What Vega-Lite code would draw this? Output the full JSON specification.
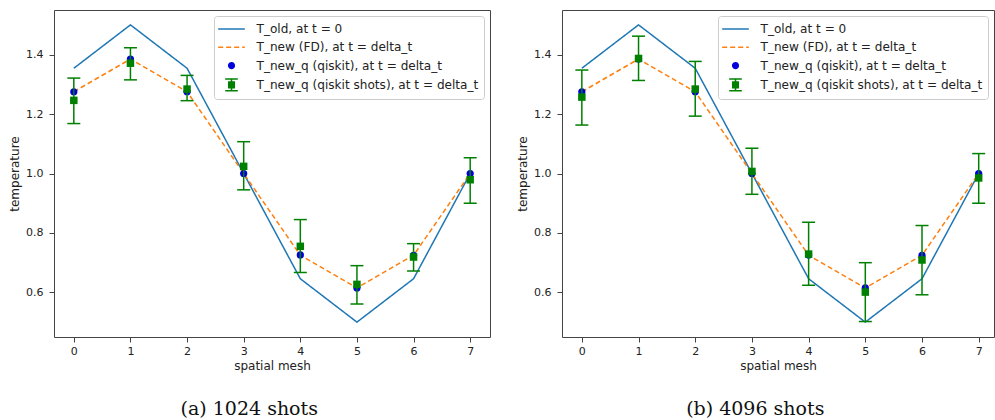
{
  "$schema": "https://vega.github.io/schema/vega-lite/v6.json",
  "padding": {"left": 8, "top": 9, "right": 0, "bottom": 0},
  "spacing": 25,
  "background": "white",
  "datasets": {
    "curves": [
      {"s": "T_old, at t = 0", "x": 0, "y": 1.354},
      {"s": "T_old, at t = 0", "x": 1, "y": 1.5},
      {"s": "T_old, at t = 0", "x": 2, "y": 1.354},
      {"s": "T_old, at t = 0", "x": 3, "y": 1.0},
      {"s": "T_old, at t = 0", "x": 4, "y": 0.646},
      {"s": "T_old, at t = 0", "x": 5, "y": 0.5},
      {"s": "T_old, at t = 0", "x": 6, "y": 0.646},
      {"s": "T_old, at t = 0", "x": 7, "y": 1.0},
      {"s": "T_new (FD), at t = delta_t", "x": 0, "y": 1.275},
      {"s": "T_new (FD), at t = delta_t", "x": 1, "y": 1.385},
      {"s": "T_new (FD), at t = delta_t", "x": 2, "y": 1.275},
      {"s": "T_new (FD), at t = delta_t", "x": 3, "y": 1.0},
      {"s": "T_new (FD), at t = delta_t", "x": 4, "y": 0.725},
      {"s": "T_new (FD), at t = delta_t", "x": 5, "y": 0.615},
      {"s": "T_new (FD), at t = delta_t", "x": 6, "y": 0.725},
      {"s": "T_new (FD), at t = delta_t", "x": 7, "y": 1.0},
      {"s": "T_new_q (qiskit), at t = delta_t", "x": 0, "y": 1.275},
      {"s": "T_new_q (qiskit), at t = delta_t", "x": 1, "y": 1.385},
      {"s": "T_new_q (qiskit), at t = delta_t", "x": 2, "y": 1.275},
      {"s": "T_new_q (qiskit), at t = delta_t", "x": 3, "y": 1.0},
      {"s": "T_new_q (qiskit), at t = delta_t", "x": 4, "y": 0.726},
      {"s": "T_new_q (qiskit), at t = delta_t", "x": 5, "y": 0.615},
      {"s": "T_new_q (qiskit), at t = delta_t", "x": 6, "y": 0.725},
      {"s": "T_new_q (qiskit), at t = delta_t", "x": 7, "y": 1.0}
    ],
    "shots_a": [
      {"x": 0, "y": 1.246, "lo": 1.168, "hi": 1.321},
      {"x": 1, "y": 1.371, "lo": 1.315, "hi": 1.423},
      {"x": 2, "y": 1.284, "lo": 1.245, "hi": 1.330},
      {"x": 3, "y": 1.024, "lo": 0.945, "hi": 1.107},
      {"x": 4, "y": 0.755, "lo": 0.667, "hi": 0.845},
      {"x": 5, "y": 0.627, "lo": 0.561, "hi": 0.690},
      {"x": 6, "y": 0.719, "lo": 0.672, "hi": 0.764},
      {"x": 7, "y": 0.979, "lo": 0.900, "hi": 1.053}
    ],
    "shots_b": [
      {"x": 0, "y": 1.257, "lo": 1.163, "hi": 1.348},
      {"x": 1, "y": 1.387, "lo": 1.313, "hi": 1.462},
      {"x": 2, "y": 1.284, "lo": 1.193, "hi": 1.377},
      {"x": 3, "y": 1.007, "lo": 0.930, "hi": 1.085},
      {"x": 4, "y": 0.729, "lo": 0.624, "hi": 0.836},
      {"x": 5, "y": 0.601, "lo": 0.502, "hi": 0.700},
      {"x": 6, "y": 0.709, "lo": 0.592, "hi": 0.825},
      {"x": 7, "y": 0.985, "lo": 0.900, "hi": 1.067}
    ]
  },
  "resolve": {"scale": {"color": "independent", "strokeDash": "independent"}, "legend": {"color": "independent", "strokeDash": "independent"}},
  "hconcat": [
    {
      "width": 436,
      "height": 327,
      "title": {"text": "(a) 1024 shots", "orient": "bottom", "frame": "bounds"},
      "layer": [
        {
          "data": {"name": "curves"},
          "transform": [{"filter": "datum.s !== 'T_new_q (qiskit), at t = delta_t'"}],
          "mark": {"type": "line", "strokeWidth": 1.5},
          "encoding": {
            "x": {"field": "x", "type": "quantitative", "scale": {"domain": [-0.35, 7.35], "nice": false, "zero": false}, "axis": {"values": [0,1,2,3,4,5,6,7], "format": "d", "title": "spatial mesh"}},
            "y": {"field": "y", "type": "quantitative", "scale": {"domain": [0.45, 1.55], "nice": false, "zero": false}, "axis": {"values": [0.6,0.8,1.0,1.2,1.4], "format": ".1f", "title": "temperature"}},
            "color": {"field": "s", "type": "nominal",
              "scale": {"domain": ["T_old, at t = 0", "T_new (FD), at t = delta_t", "T_new_q (qiskit), at t = delta_t", "T_new_q (qiskit shots), at t = delta_t"], "range": ["#1f77b4", "#ff7f0e", "#0000dd", "#008000"]},
              "legend": {
                "title": null, "orient": "top-right", "offset": 6, "padding": 5,
                "fillColor": "rgba(255,255,255,0.85)", "strokeColor": "#cccccc", "cornerRadius": 3,
                "labelFont": "DejaVu Sans", "labelFontSize": 12.1, "labelColor": "#222222", "labelLimit": 400,
                "symbolSize": 196, "symbolOffset": 4.5, "rowPadding": 3.3, "labelOffset": 17,
                "encode": {"symbols": {"update": {
                  "shape": {"signal": "(datum.value === 'T_old, at t = 0' || datum.value === 'T_new (FD), at t = delta_t') ? 'M-1.9,0H1.9' : datum.value === 'T_new_q (qiskit), at t = delta_t' ? 'M0.4,0A0.4,0.4 0 1,1 -0.4,0A0.4,0.4 0 1,1 0.4,0Z' : 'M-0.4,-0.4H0.4V0.4H-0.4Z M0,-0.85V0.85 M-0.9,-0.85H0.9 M-0.9,0.85H0.9'"},
                  "stroke": {"signal": "datum.value === 'T_old, at t = 0' ? '#1f77b4' : datum.value === 'T_new (FD), at t = delta_t' ? '#ff7f0e' : datum.value === 'T_new_q (qiskit), at t = delta_t' ? '#0000dd' : '#008000'"},
                  "fill": {"signal": "datum.value === 'T_new_q (qiskit), at t = delta_t' ? '#0000dd' : datum.value === 'T_new_q (qiskit shots), at t = delta_t' ? '#008000' : 'transparent'"},
                  "strokeDash": {"signal": "datum.value === 'T_new (FD), at t = delta_t' ? [5,3] : [1,0]"},
                  "strokeWidth": {"value": 1.5},
                  "opacity": {"value": 1},
                  "fillOpacity": {"value": 1},
                  "strokeOpacity": {"value": 1}
                }}}
              }
            },
            "strokeDash": {"field": "s", "type": "nominal", "scale": {"domain": ["T_old, at t = 0", "T_new (FD), at t = delta_t"], "range": [[1,0],[5,3]]}, "legend": null}
          }
        },
        {
          "data": {"name": "curves"},
          "transform": [{"filter": "datum.s === 'T_new_q (qiskit), at t = delta_t'"}],
          "mark": {"type": "point", "shape": "circle", "filled": true, "size": 52, "color": "#0000dd", "opacity": 1},
          "encoding": {
            "x": {"field": "x", "type": "quantitative", "scale": {"domain": [-0.35, 7.35], "nice": false, "zero": false}},
            "y": {"field": "y", "type": "quantitative", "scale": {"domain": [0.45, 1.55], "nice": false, "zero": false}, "title": "temperature"}
          }
        },
        {
          "data": {"name": "shots_a"},
          "mark": {"type": "rule", "color": "#008000", "strokeWidth": 1.5},
          "encoding": {
            "x": {"field": "x", "type": "quantitative", "scale": {"domain": [-0.35, 7.35], "nice": false, "zero": false}},
            "y": {"field": "lo", "type": "quantitative", "scale": {"domain": [0.45, 1.55], "nice": false, "zero": false}, "title": "temperature"},
            "y2": {"field": "hi"}
          }
        },
        {
          "data": {"name": "shots_a"},
          "mark": {"type": "tick", "orient": "horizontal", "color": "#008000", "size": 13, "thickness": 1.5, "opacity": 1},
          "encoding": {
            "x": {"field": "x", "type": "quantitative", "scale": {"domain": [-0.35, 7.35], "nice": false, "zero": false}},
            "y": {"field": "lo", "type": "quantitative", "scale": {"domain": [0.45, 1.55], "nice": false, "zero": false}, "title": "temperature"}
          }
        },
        {
          "data": {"name": "shots_a"},
          "mark": {"type": "tick", "orient": "horizontal", "color": "#008000", "size": 13, "thickness": 1.5, "opacity": 1},
          "encoding": {
            "x": {"field": "x", "type": "quantitative", "scale": {"domain": [-0.35, 7.35], "nice": false, "zero": false}},
            "y": {"field": "hi", "type": "quantitative", "scale": {"domain": [0.45, 1.55], "nice": false, "zero": false}, "title": "temperature"}
          }
        },
        {
          "data": {"name": "shots_a"},
          "mark": {"type": "point", "shape": "square", "filled": true, "size": 56, "color": "#008000", "opacity": 1},
          "encoding": {
            "x": {"field": "x", "type": "quantitative", "scale": {"domain": [-0.35, 7.35], "nice": false, "zero": false}},
            "y": {"field": "y", "type": "quantitative", "scale": {"domain": [0.45, 1.55], "nice": false, "zero": false}, "title": "temperature"}
          }
        }
      ]
    },
    {
      "width": 432,
      "height": 327,
      "title": {"text": "(b) 4096 shots", "orient": "bottom", "frame": "bounds"},
      "layer": [
        {
          "data": {"name": "curves"},
          "transform": [{"filter": "datum.s !== 'T_new_q (qiskit), at t = delta_t'"}],
          "mark": {"type": "line", "strokeWidth": 1.5},
          "encoding": {
            "x": {"field": "x", "type": "quantitative", "scale": {"domain": [-0.35, 7.27], "nice": false, "zero": false}, "axis": {"values": [0,1,2,3,4,5,6,7], "format": "d", "title": "spatial mesh"}},
            "y": {"field": "y", "type": "quantitative", "scale": {"domain": [0.45, 1.55], "nice": false, "zero": false}, "axis": {"values": [0.6,0.8,1.0,1.2,1.4], "format": ".1f", "title": "temperature"}},
            "color": {"field": "s", "type": "nominal",
              "scale": {"domain": ["T_old, at t = 0", "T_new (FD), at t = delta_t", "T_new_q (qiskit), at t = delta_t", "T_new_q (qiskit shots), at t = delta_t"], "range": ["#1f77b4", "#ff7f0e", "#0000dd", "#008000"]},
              "legend": {
                "title": null, "orient": "top-right", "offset": 6, "padding": 5,
                "fillColor": "rgba(255,255,255,0.85)", "strokeColor": "#cccccc", "cornerRadius": 3,
                "labelFont": "DejaVu Sans", "labelFontSize": 12.1, "labelColor": "#222222", "labelLimit": 400,
                "symbolSize": 196, "symbolOffset": 4.5, "rowPadding": 3.3, "labelOffset": 17,
                "encode": {"symbols": {"update": {
                  "shape": {"signal": "(datum.value === 'T_old, at t = 0' || datum.value === 'T_new (FD), at t = delta_t') ? 'M-1.9,0H1.9' : datum.value === 'T_new_q (qiskit), at t = delta_t' ? 'M0.4,0A0.4,0.4 0 1,1 -0.4,0A0.4,0.4 0 1,1 0.4,0Z' : 'M-0.4,-0.4H0.4V0.4H-0.4Z M0,-0.85V0.85 M-0.9,-0.85H0.9 M-0.9,0.85H0.9'"},
                  "stroke": {"signal": "datum.value === 'T_old, at t = 0' ? '#1f77b4' : datum.value === 'T_new (FD), at t = delta_t' ? '#ff7f0e' : datum.value === 'T_new_q (qiskit), at t = delta_t' ? '#0000dd' : '#008000'"},
                  "fill": {"signal": "datum.value === 'T_new_q (qiskit), at t = delta_t' ? '#0000dd' : datum.value === 'T_new_q (qiskit shots), at t = delta_t' ? '#008000' : 'transparent'"},
                  "strokeDash": {"signal": "datum.value === 'T_new (FD), at t = delta_t' ? [5,3] : [1,0]"},
                  "strokeWidth": {"value": 1.5},
                  "opacity": {"value": 1},
                  "fillOpacity": {"value": 1},
                  "strokeOpacity": {"value": 1}
                }}}
              }
            },
            "strokeDash": {"field": "s", "type": "nominal", "scale": {"domain": ["T_old, at t = 0", "T_new (FD), at t = delta_t"], "range": [[1,0],[5,3]]}, "legend": null}
          }
        },
        {
          "data": {"name": "curves"},
          "transform": [{"filter": "datum.s === 'T_new_q (qiskit), at t = delta_t'"}],
          "mark": {"type": "point", "shape": "circle", "filled": true, "size": 52, "color": "#0000dd", "opacity": 1},
          "encoding": {
            "x": {"field": "x", "type": "quantitative", "scale": {"domain": [-0.35, 7.27], "nice": false, "zero": false}},
            "y": {"field": "y", "type": "quantitative", "scale": {"domain": [0.45, 1.55], "nice": false, "zero": false}, "title": "temperature"}
          }
        },
        {
          "data": {"name": "shots_b"},
          "mark": {"type": "rule", "color": "#008000", "strokeWidth": 1.5},
          "encoding": {
            "x": {"field": "x", "type": "quantitative", "scale": {"domain": [-0.35, 7.27], "nice": false, "zero": false}},
            "y": {"field": "lo", "type": "quantitative", "scale": {"domain": [0.45, 1.55], "nice": false, "zero": false}, "title": "temperature"},
            "y2": {"field": "hi"}
          }
        },
        {
          "data": {"name": "shots_b"},
          "mark": {"type": "tick", "orient": "horizontal", "color": "#008000", "size": 13, "thickness": 1.5, "opacity": 1},
          "encoding": {
            "x": {"field": "x", "type": "quantitative", "scale": {"domain": [-0.35, 7.27], "nice": false, "zero": false}},
            "y": {"field": "lo", "type": "quantitative", "scale": {"domain": [0.45, 1.55], "nice": false, "zero": false}, "title": "temperature"}
          }
        },
        {
          "data": {"name": "shots_b"},
          "mark": {"type": "tick", "orient": "horizontal", "color": "#008000", "size": 13, "thickness": 1.5, "opacity": 1},
          "encoding": {
            "x": {"field": "x", "type": "quantitative", "scale": {"domain": [-0.35, 7.27], "nice": false, "zero": false}},
            "y": {"field": "hi", "type": "quantitative", "scale": {"domain": [0.45, 1.55], "nice": false, "zero": false}, "title": "temperature"}
          }
        },
        {
          "data": {"name": "shots_b"},
          "mark": {"type": "point", "shape": "square", "filled": true, "size": 56, "color": "#008000", "opacity": 1},
          "encoding": {
            "x": {"field": "x", "type": "quantitative", "scale": {"domain": [-0.35, 7.27], "nice": false, "zero": false}},
            "y": {"field": "y", "type": "quantitative", "scale": {"domain": [0.45, 1.55], "nice": false, "zero": false}, "title": "temperature"}
          }
        }
      ]
    }
  ],
  "config": {
    "view": {"stroke": "#444444", "strokeWidth": 1},
    "axis": {"grid": false, "domain": false, "tickColor": "#444444", "tickSize": 5, "tickWidth": 1,
      "labelFont": "DejaVu Sans", "labelFontSize": 11, "labelColor": "#222222",
      "titleFont": "DejaVu Sans", "titleFontSize": 12, "titleFontWeight": "normal", "titleColor": "#222222"},
    "axisX": {"labelPadding": 3, "titlePadding": 4},
    "axisY": {"labelPadding": 6, "titlePadding": 4},
    "title": {"font": "DejaVu Serif", "fontSize": 19, "fontWeight": "normal", "color": "#111111", "offset": 29, "anchor": "middle"}
  }
}
